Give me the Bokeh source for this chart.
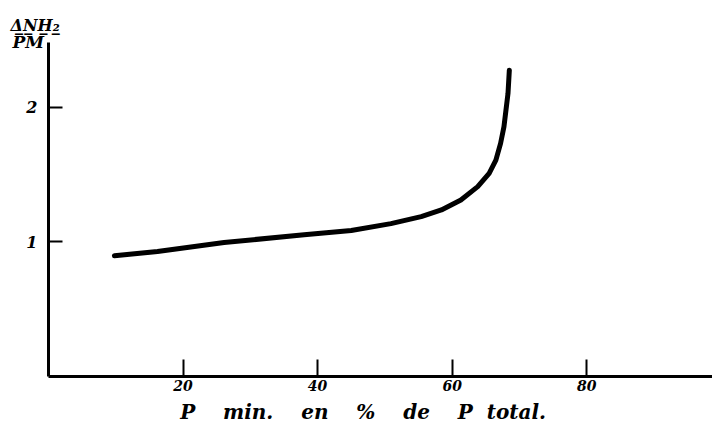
from bokeh.plotting import figure
from bokeh.models import Range1d, FixedTicker, Title
from bokeh.embed import file_html
from bokeh.resources import INLINE

# Data
p_min_pct = [9.8, 16.2, 26.1, 38.0, 45.0, 50.9, 55.4, 58.4, 61.3, 63.8, 65.5, 66.5,
             67.2, 67.7, 68.0, 68.3, 68.5]
dnh2_pm = [0.896, 0.928, 0.995, 1.052, 1.084, 1.135, 1.187, 1.237, 1.311, 1.41, 1.509, 1.607,
           1.731, 1.854, 1.978, 2.101, 2.274]
x_ticks = [20, 40, 60, 80]
y_ticks = [1, 2]
NB = "\u00a0"
x_title = (NB * 4).join(["P", "min.", "en", "%", "de", "P" + NB * 2 + "total."]) + NB * 5
y_title_top = "\u0394\u0332N\u0332H\u0332\u2082\u0332"   # underlined: fraction bar
y_title_bottom = "PM"

FONT = "DejaVu Serif"

p = figure(width=712, height=426, output_backend="svg", toolbar_location=None,
           x_range=Range1d(0, 98.7), y_range=Range1d(0, 2.48),
           min_border_left=48, min_border_right=0, min_border_top=42, min_border_bottom=49)
p.title = None
p.outline_line_color = None
p.grid.visible = False
p.background_fill_color = "white"
p.border_fill_color = "white"

p.line(p_min_pct, dnh2_pm, line_color="black", line_width=5, line_cap="round", line_join="round")

for ax in (p.xaxis[0], p.yaxis[0]):
    ax.axis_line_width = 3
    ax.axis_line_color = "black"
    ax.major_tick_line_width = 2
    ax.major_tick_line_color = "black"
    ax.major_tick_out = 0
    ax.minor_tick_line_color = None
    ax.major_label_text_font = FONT
    ax.major_label_text_font_style = "bold italic"
    ax.major_label_text_font_size = "14px"
    ax.major_label_text_color = "black"

p.xaxis[0].major_tick_in = 17
p.yaxis[0].major_tick_in = 14
p.xaxis[0].ticker = FixedTicker(ticks=x_ticks)
p.yaxis[0].ticker = FixedTicker(ticks=y_ticks)
p.xaxis[0].major_label_standoff = 3
p.yaxis[0].major_label_standoff = 11
p.yaxis[0].major_label_text_font_size = "16px"

p.xaxis[0].axis_label = x_title
p.xaxis[0].axis_label_text_font = FONT
p.xaxis[0].axis_label_text_font_style = "bold italic"
p.xaxis[0].axis_label_text_font_size = "20px"
p.xaxis[0].axis_label_standoff = 6
p.xaxis[0].axis_label_text_color = "black"

title_kw = dict(text_font=FONT, text_font_style="bold italic", text_color="black", align="left")
p.add_layout(Title(text=y_title_bottom, offset=-36, standoff=-18, text_font_size="17px", **title_kw), "above")
p.add_layout(Title(text=y_title_top, offset=-38, standoff=8, text_font_size="16px", **title_kw), "above")

open("out.html", "w").write(file_html(p, INLINE))
